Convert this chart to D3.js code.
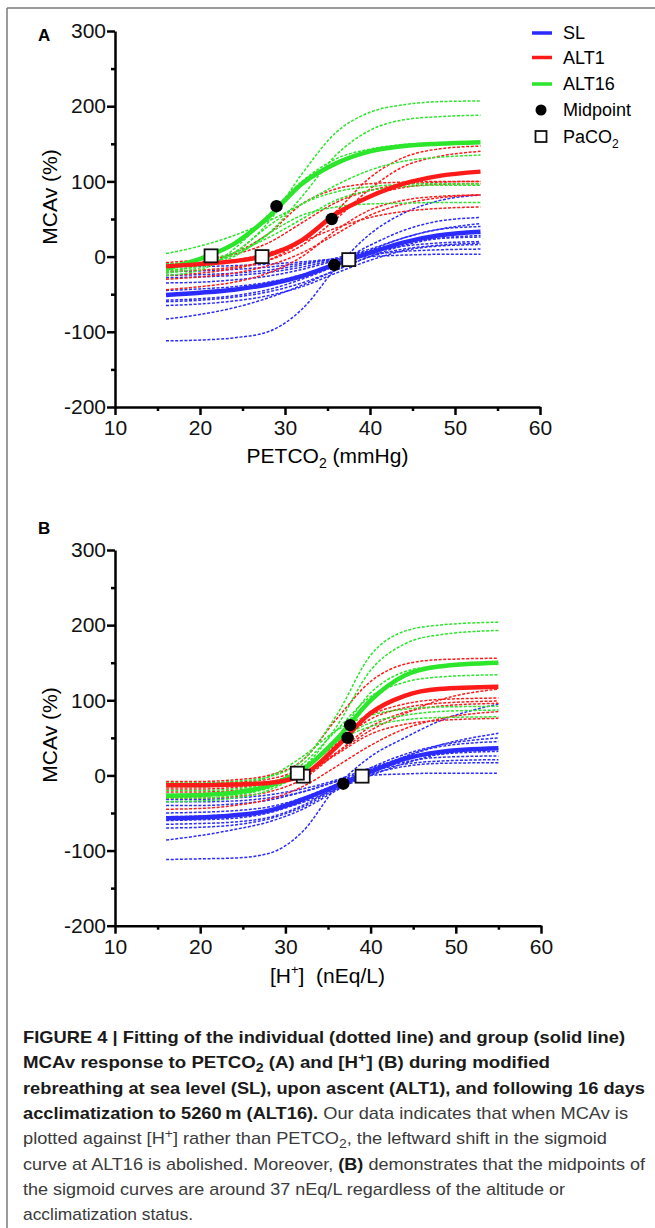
<!DOCTYPE html>
<html><head><meta charset="utf-8">
<script src="https://cdn.jsdelivr.net/npm/d3@7"></script>
<style>
html,body{margin:0;padding:0;background:#fff;}
svg{display:block;font-family:"Liberation Sans",Arial,Helvetica,sans-serif;}
</style></head>
<body><svg id="chart" width="655" height="1228"></svg>
<script>
// ---------------- DATA ----------------
const xTicks = [10, 20, 30, 40, 50, 60];
const xMinorTicks = [15, 25, 35, 45, 55];
const yTicks = [-200, -100, 0, 100, 200, 300];
const yMinorTicks = [-150, -50, 50, 150, 250];
const groupNames = ["SL", "ALT1", "ALT16"];

// Panel A: MCAv (%) vs PETCO2 (mmHg), sampled at these PETCO2 values
const xSampleA = [16, 20, 24, 28, 32, 36, 40, 44, 48, 53];
const slGroupA    = [-51, -48, -44, -37, -26, -10, 5, 19, 28, 33];
const alt1GroupA  = [-13, -10, -6, 2, 22, 57, 80, 97, 107, 113];
const alt16GroupA = [-16, -3, 17, 52, 97, 124, 140, 147, 150, 152];
const slIndivA = [
  [-112, -111, -108, -100, -70, -15, 30, 58, 74, 82],
  [-83, -77, -68, -55, -38, -18, 0, 10, 15, 18],
  [-60, -58, -54, -47, -35, -18, 0, 15, 24, 28],
  [-65, -63, -59, -52, -40, -22, -5, 8, 14, 16],
  [-58, -56, -52, -44, -30, -12, 8, 25, 36, 44],
  [-35, -34, -31, -26, -17, -5, 8, 18, 24, 26],
  [-28, -27, -25, -21, -14, -4, 6, 14, 18, 20],
  [-20, -19, -17, -14, -9, -3, 3, 7, 9, 10],
  [-13, -13, -12, -10, -7, -3, 0, 2, 3, 3],
  [-45, -43, -40, -34, -24, -8, 15, 35, 47, 52],
  [-25, -24, -22, -18, -11, -2, 10, 25, 36, 40]
];
const alt1IndivA = [
  [-10, -8, -5, 2, 20, 60, 105, 132, 143, 147],
  [-20, -18, -14, -5, 15, 50, 90, 120, 133, 140],
  [-8, -4, 3, 18, 45, 72, 88, 96, 99, 100],
  [-25, -22, -16, -5, 20, 55, 80, 92, 96, 97],
  [-15, -8, 5, 30, 70, 90, 97, 99, 100, 100],
  [-30, -27, -22, -12, 5, 30, 55, 70, 78, 82],
  [-12, -10, -5, 5, 20, 38, 52, 60, 64, 66],
  [-44, -40, -34, -22, 0, 35, 62, 75, 80, 82]
];
const alt16IndivA = [
  [-18, -12, 5, 45, 110, 165, 192, 202, 206, 207],
  [-15, -10, 2, 30, 80, 135, 168, 182, 186, 188],
  [4, 14, 28, 47, 70, 95, 115, 127, 132, 135],
  [-20, -12, 5, 40, 70, 86, 93, 96, 97, 97],
  [-22, -15, 0, 30, 55, 66, 70, 71, 72, 72],
  [-25, -18, 10, 55, 100, 130, 143, 149, 151, 152],
  [-10, -5, 5, 25, 50, 75, 88, 93, 95, 95]
];
const midpointsA = [[35.8, -11], [35.5, 50], [29.0, 67]];   // SL, ALT1, ALT16
const paco2A     = [[37.5, -4], [27.3, 0], [21.3, 1]];

// Panel B: MCAv (%) vs [H+] (nEq/L), sampled at these [H+] values
const xSampleB = [16, 20, 24, 28, 32, 36, 40, 44, 48, 55];
const slGroupB    = [-57, -56, -53, -47, -32, -14, 5, 22, 31, 36];
const alt1GroupB  = [-13, -13, -12, -10, 0, 38, 83, 106, 115, 118];
const alt16GroupB = [-27, -26, -23, -14, 7, 48, 100, 133, 145, 150];
const slIndivB = [
  [-112, -111, -110, -104, -75, -15, 25, 50, 72, 95],
  [-86, -80, -72, -62, -45, -20, 5, 25, 40, 56],
  [-65, -64, -62, -56, -40, -15, 10, 28, 40, 50],
  [-60, -59, -57, -50, -35, -12, 5, 15, 19, 21],
  [-50, -49, -47, -42, -30, -12, 2, 12, 16, 17],
  [-40, -40, -38, -33, -22, -8, 0, 2, 3, 3],
  [-32, -32, -30, -26, -18, -6, 10, 22, 28, 32],
  [-70, -69, -66, -58, -42, -18, 5, 18, 24, 26],
  [-55, -54, -52, -47, -36, -18, 0, 16, 28, 35],
  [-35, -35, -34, -30, -22, -8, 8, 25, 38, 45]
];
const alt1IndivB = [
  [-8, -8, -6, 0, 20, 75, 125, 148, 154, 156],
  [-10, -10, -9, -5, 10, 45, 80, 95, 101, 103],
  [-18, -18, -16, -10, 8, 42, 75, 90, 96, 99],
  [-30, -30, -28, -22, -5, 30, 65, 84, 92, 96],
  [-45, -44, -40, -32, -15, 12, 40, 62, 75, 85],
  [-22, -22, -20, -14, 0, 28, 55, 68, 73, 76],
  [-15, -15, -14, -10, 2, 30, 60, 82, 100, 115]
];
const alt16IndivB = [
  [-10, -10, -8, -2, 20, 80, 160, 192, 200, 204],
  [-20, -20, -18, -10, 10, 65, 140, 175, 187, 193],
  [-30, -30, -27, -15, 15, 60, 105, 124, 131, 134],
  [-15, -15, -12, -2, 25, 60, 80, 88, 91, 92],
  [-35, -34, -30, -20, 5, 45, 70, 80, 85, 87],
  [-25, -25, -22, -12, 10, 45, 65, 74, 77, 78],
  [-28, -27, -25, -17, 5, 50, 110, 138, 146, 150]
];
const midpointsB = [[36.8, -11], [37.3, 50], [37.6, 67]];
const paco2B     = [[39.0, -1], [32.1, -1], [31.4, 3]];

// ---------------- STYLE ----------------
const colors = {SL: "#2b2bff", ALT1: "#ff1a1a", ALT16: "#2be62b"};
const svg = d3.select("#chart");

// frame
svg.append("line").attr("x1", 7).attr("x2", 655).attr("y1", 8).attr("y2", 8)
  .attr("stroke", "#7a7a7a").attr("stroke-width", 1.5);
svg.append("line").attr("x1", 7).attr("x2", 7).attr("y1", 8).attr("y2", 1228)
  .attr("stroke", "#7a7a7a").attr("stroke-width", 1.5);

function drawPanel(cfg) {
  const x = d3.scaleLinear().domain([10, 60]).range([115, cfg.xRight]);
  const y = d3.scaleLinear().domain([-200, 300]).range([cfg.yBottom, cfg.yTop]);
  const g = svg.append("g");

  // minor ticks
  g.append("g").attr("transform", `translate(0,${cfg.yBottom})`)
    .call(d3.axisBottom(x).tickValues(xMinorTicks).tickSize(4).tickFormat(""))
    .call(a => a.select(".domain").remove())
    .call(a => a.selectAll("line").attr("stroke-width", 2.5));
  g.append("g").attr("transform", `translate(115,0)`)
    .call(d3.axisLeft(y).tickValues(yMinorTicks).tickSize(4).tickFormat(""))
    .call(a => a.select(".domain").remove())
    .call(a => a.selectAll("line").attr("stroke-width", 2.5));

  // major axes
  const fmt = d => String(d);
  const xa = g.append("g").attr("transform", `translate(0,${cfg.yBottom})`)
    .call(d3.axisBottom(x).tickValues(xTicks).tickFormat(fmt).tickSize(8).tickSizeOuter(0).tickPadding(5));
  const ya = g.append("g").attr("transform", `translate(115,0)`)
    .call(d3.axisLeft(y).tickValues(yTicks).tickFormat(fmt).tickSize(8).tickSizeOuter(0).tickPadding(1));
  [xa, ya].forEach(a => {
    a.select(".domain").attr("stroke-width", 2.5);
    a.selectAll(".tick line").attr("stroke-width", 2.5);
    a.selectAll("text").attr("font-size", 21).attr("fill", "#111")
      .attr("font-family", "'Liberation Sans',Arial,sans-serif");
  });

  // curves
  const line = d3.line().x(d => x(d[0])).y(d => y(d[1])).curve(d3.curveMonotoneX);
  const toPts = arr => arr.map((v, i) => [cfg.xs[i], v]);
  const lines = g.append("g");
  cfg.indiv.forEach((set, gi) => {
    set.forEach(arr => {
      lines.append("path").attr("d", line(toPts(arr)))
        .attr("fill", "none").attr("stroke", colors[groupNames[gi]])
        .attr("stroke-width", 1.5).attr("stroke-dasharray", "3,1.6");
    });
  });
  [2, 1, 0].forEach(gi => {
    lines.append("path").attr("d", line(toPts(cfg.group[gi])))
      .attr("fill", "none").attr("stroke", colors[groupNames[gi]])
      .attr("stroke-width", 4.5).attr("stroke-linecap", "butt");
  });

  // markers
  g.append("g").selectAll("rect").data(cfg.paco2).join("rect")
    .attr("x", d => x(d[0]) - 6.5).attr("y", d => y(d[1]) - 6.5)
    .attr("width", 13).attr("height", 13)
    .attr("fill", "#fff").attr("stroke", "#111").attr("stroke-width", 1.8);
  g.append("g").selectAll("circle").data(cfg.mid).join("circle")
    .attr("cx", d => x(d[0])).attr("cy", d => y(d[1])).attr("r", 6.2).attr("fill", "#000");

  // titles
  g.append("text").attr("x", 38).attr("y", cfg.labelY).attr("font-weight", "bold")
    .attr("font-size", 17).text(cfg.label);
  g.append("text").attr("transform", `translate(57,${cfg.yTitleY}) rotate(-90)`)
    .attr("text-anchor", "middle").attr("font-size", 21).text("MCAv (%)");
  return {g, x, y};
}

// Panel A
const pA = drawPanel({xRight: 540, yTop: 31, yBottom: 407, xs: xSampleA,
  indiv: [slIndivA, alt1IndivA, alt16IndivA], group: [slGroupA, alt1GroupA, alt16GroupA],
  mid: midpointsA, paco2: paco2A, label: "A", labelY: 41, yTitleY: 197});
const tA = pA.g.append("text").attr("x", 327.5).attr("y", 463).attr("text-anchor", "middle").attr("font-size", 21);
tA.append("tspan").text("PETCO");
tA.append("tspan").attr("font-size", 14).attr("dy", 5).text("2");
tA.append("tspan").attr("dy", -5).text(" (mmHg)");

// Panel B
const pB = drawPanel({xRight: 541, yTop: 550, yBottom: 925.7, xs: xSampleB,
  indiv: [slIndivB, alt1IndivB, alt16IndivB], group: [slGroupB, alt1GroupB, alt16GroupB],
  mid: midpointsB, paco2: paco2B, label: "B", labelY: 534, yTitleY: 735});
const tB = pB.g.append("text").attr("x", 327.5).attr("y", 983).attr("text-anchor", "middle").attr("font-size", 21);
tB.append("tspan").text("[H");
tB.append("tspan").attr("font-size", 13).attr("dy", -9).text("+");
tB.append("tspan").attr("dy", 9).text("]\u00a0\u00a0(nEq/L)");

// Legend
const leg = svg.append("g").attr("font-size", 18);
groupNames.forEach((n, i) => {
  const yy = [33, 57.5, 84][i];
  leg.append("line").attr("x1", 532).attr("x2", 552).attr("y1", yy).attr("y2", yy)
    .attr("stroke", colors[n]).attr("stroke-width", 3.5);
  leg.append("text").attr("x", 563).attr("y", yy).attr("dy", "0.35em").text(n);
});
leg.append("circle").attr("cx", 541).attr("cy", 110).attr("r", 5.5).attr("fill", "#000");
leg.append("text").attr("x", 563).attr("y", 110).attr("dy", "0.35em").text("Midpoint");
leg.append("rect").attr("x", 535.5).attr("y", 131).attr("width", 11).attr("height", 11)
  .attr("fill", "#fff").attr("stroke", "#111").attr("stroke-width", 1.8);
const lp = leg.append("text").attr("x", 563).attr("y", 136.5).attr("dy", "0.35em");
lp.append("tspan").text("PaCO");
lp.append("tspan").attr("font-size", 12).attr("dy", 5).text("2");

// Caption
const cap = svg.append("g").attr("font-size", 17);
const capWidths = [602, 527, 622, 605, 584, 622, 542, 170];
const capLines = [
  [["b", "FIGURE 4 | Fitting of the individual (dotted line) and group (solid line)"]],
  [["b", "MCAv response to PETCO"], ["bsub", "2"], ["b", " (A) and [H"], ["bsup", "+"], ["b", "] (B) during modified"]],
  [["b", "rebreathing at sea level (SL), upon ascent (ALT1), and following 16 days"]],
  [["b", "acclimatization to 5260\u2009m (ALT16)."], ["n", " Our data indicates that when MCAv is"]],
  [["n", "plotted against [H"], ["sup", "+"], ["n", "] rather than PETCO"], ["sub", "2"], ["n", ", the leftward shift in the sigmoid"]],
  [["n", "curve at ALT16 is abolished. Moreover, "], ["b", "(B)"], ["n", " demonstrates that the midpoints of"]],
  [["n", "the sigmoid curves are around 37 nEq/L regardless of the altitude or"]],
  [["n", "acclimatization status."]]
];
capLines.forEach((segs, i) => {
  const t = cap.append("text").attr("x", 23).attr("y", 1043 + i * 25.3)
    .attr("textLength", capWidths[i]).attr("lengthAdjust", "spacingAndGlyphs");
  let shift = 0;
  segs.forEach(([k, s]) => {
    const ts = t.append("tspan").text(s);
    const bold = k[0] === "b";
    ts.attr("font-weight", bold ? "bold" : "normal").attr("fill", bold ? "#1a1a1a" : "#3a3a3a");
    let target = 0;
    if (k.endsWith("sub")) { ts.attr("font-size", 13); target = 4; }
    else if (k.endsWith("sup")) { ts.attr("font-size", 13); target = -6; }
    if (target !== shift) { ts.attr("dy", target - shift); shift = target; }
  });
});
</script>
</body></html>
